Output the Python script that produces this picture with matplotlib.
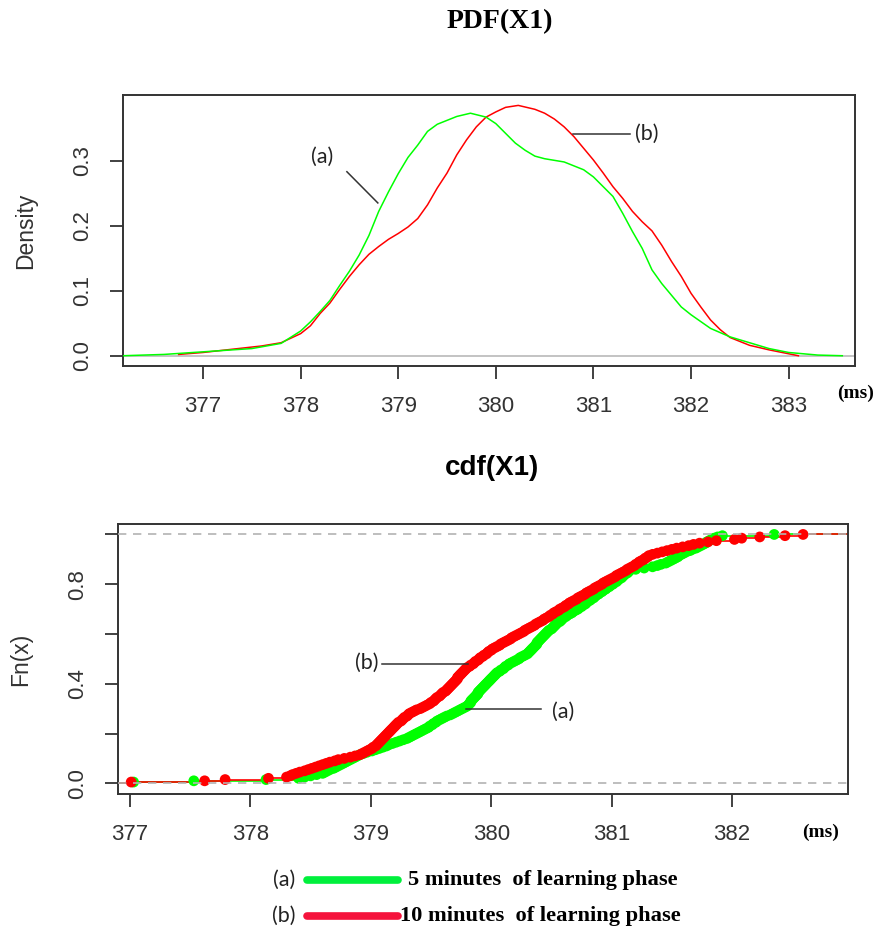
import matplotlib
matplotlib.use("Agg")
import matplotlib.pyplot as plt
from matplotlib.lines import Line2D
import numpy as np

# density curves, (a) = 5 min, (b) = 10 min
pdf_x_a = [376.18, 376.6, 377.0, 377.5, 377.8, 378.0, 378.1, 378.2, 378.3, 378.4,
           378.5, 378.6, 378.7, 378.8, 378.9, 379.0, 379.1, 379.2, 379.3, 379.4,
           379.5, 379.6, 379.74, 379.9, 380.0, 380.1, 380.2, 380.3, 380.4, 380.5,
           380.7, 380.9, 381.0, 381.1, 381.2, 381.3, 381.4, 381.5, 381.6, 381.7,
           381.8, 381.9, 382.0, 382.2, 382.4, 382.6, 382.8, 383.0, 383.3, 383.55]
pdf_y_a = [0.0, 0.002, 0.006, 0.011, 0.019, 0.038, 0.052, 0.068, 0.085, 0.108,
           0.130, 0.155, 0.185, 0.222, 0.252, 0.280, 0.305, 0.324, 0.345, 0.356,
           0.362, 0.368, 0.373, 0.367, 0.357, 0.342, 0.327, 0.316, 0.307, 0.303,
           0.298, 0.286, 0.275, 0.260, 0.245, 0.219, 0.191, 0.165, 0.132, 0.111,
           0.093, 0.075, 0.063, 0.042, 0.029, 0.020, 0.011, 0.005, 0.001, 0.0]

pdf_x_b = [376.75, 377.0, 377.3, 377.6, 377.8, 378.0, 378.1, 378.2, 378.3, 378.4,
           378.5, 378.6, 378.7, 378.8, 378.9, 379.0, 379.1, 379.2, 379.3, 379.4,
           379.5, 379.6, 379.7, 379.8, 379.9, 380.0, 380.1, 380.23, 380.4, 380.5,
           380.6, 380.7, 380.8, 380.9, 381.0, 381.1, 381.2, 381.3, 381.4, 381.5,
           381.6, 381.7, 381.8, 381.9, 382.0, 382.1, 382.2, 382.3, 382.4, 382.6,
           382.8, 383.0, 383.1]
pdf_y_b = [0.002, 0.005, 0.010, 0.015, 0.020, 0.034, 0.046, 0.065, 0.081, 0.102,
           0.122, 0.140, 0.156, 0.168, 0.179, 0.188, 0.198, 0.211, 0.232, 0.258,
           0.281, 0.309, 0.332, 0.352, 0.367, 0.375, 0.382, 0.385, 0.379, 0.373,
           0.364, 0.352, 0.337, 0.319, 0.301, 0.281, 0.260, 0.242, 0.222, 0.206,
           0.192, 0.170, 0.145, 0.122, 0.096, 0.075, 0.055, 0.040, 0.028, 0.016,
           0.009, 0.003, 0.0]

# observations behind the empirical cdf panel
sample_a = [377.03, 377.53, 378.13,
            378.40, 378.45, 378.50, 378.55, 378.60, 378.62, 378.64, 378.66, 378.69, 378.71,
            378.73, 378.75, 378.77, 378.79, 378.81, 378.83, 378.85, 378.87, 378.89, 378.91,
            378.94, 378.97, 379.01, 379.04, 379.07, 379.10, 379.13, 379.15, 379.18, 379.21,
            379.24, 379.27, 379.30, 379.32, 379.34, 379.36, 379.38, 379.40, 379.42, 379.44,
            379.46, 379.48, 379.49, 379.51, 379.52, 379.54, 379.55, 379.57, 379.59, 379.61,
            379.63, 379.66, 379.68, 379.70, 379.72, 379.74, 379.76, 379.78, 379.80, 379.81,
            379.82, 379.83, 379.83, 379.84, 379.85, 379.86, 379.87, 379.88, 379.89, 379.89,
            379.90, 379.91, 379.92, 379.93, 379.94, 379.95, 379.96, 379.97, 379.98, 379.99,
            380.00, 380.01, 380.02, 380.03, 380.04, 380.05, 380.07, 380.08, 380.10, 380.11,
            380.12, 380.14, 380.15, 380.17, 380.19, 380.21, 380.23, 380.24, 380.26, 380.28,
            380.30, 380.31, 380.32, 380.33, 380.34, 380.35, 380.36, 380.37, 380.38, 380.38,
            380.39, 380.40, 380.41, 380.42, 380.43, 380.44, 380.45, 380.46, 380.47, 380.48,
            380.50, 380.51, 380.52, 380.53, 380.54, 380.55, 380.57, 380.58, 380.59, 380.60,
            380.62, 380.63, 380.65, 380.67, 380.68, 380.70, 380.72, 380.73, 380.75, 380.76,
            380.78, 380.79, 380.80, 380.82, 380.83, 380.85, 380.86, 380.87, 380.89, 380.90,
            380.92, 380.93, 380.95, 380.96, 380.98, 380.99, 381.01, 381.02, 381.04, 381.05,
            381.06, 381.08, 381.09, 381.10, 381.11, 381.13, 381.14, 381.15, 381.20, 381.27,
            381.34, 381.38, 381.41, 381.45, 381.47, 381.49, 381.51, 381.53, 381.55, 381.56,
            381.58, 381.60, 381.62, 381.65, 381.67, 381.70, 381.72, 381.74, 381.76, 381.78,
            381.79, 381.81, 381.83, 381.85, 381.88, 381.92, 382.35]

sample_b = [377.01, 377.62, 377.79, 378.15,
            378.30, 378.33, 378.35, 378.38, 378.41, 378.45, 378.48, 378.51, 378.54,
            378.57, 378.60, 378.63, 378.66, 378.70, 378.73, 378.78, 378.83, 378.87,
            378.91, 378.93, 378.95, 378.97, 378.99, 379.01, 379.02,
            379.04, 379.05, 379.06, 379.07, 379.08, 379.09, 379.10, 379.11, 379.12, 379.13,
            379.14, 379.15, 379.16, 379.17, 379.18, 379.19,
            379.20, 379.21, 379.22, 379.23, 379.25, 379.26, 379.27, 379.28, 379.30, 379.31,
            379.32, 379.34, 379.36, 379.38, 379.41, 379.43, 379.45, 379.47, 379.49,
            379.50, 379.52, 379.53, 379.54, 379.55, 379.57, 379.58, 379.59, 379.60, 379.62,
            379.63, 379.64, 379.65, 379.66, 379.67, 379.68, 379.69, 379.70, 379.71, 379.72,
            379.72, 379.73, 379.74, 379.75, 379.76, 379.77, 379.78, 379.79,
            379.80, 379.82, 379.83, 379.85, 379.86, 379.87, 379.89, 379.90, 379.91, 379.93,
            379.94, 379.96, 379.97, 379.98, 380.00, 380.01,
            380.03, 380.05, 380.07, 380.08, 380.10, 380.12, 380.14, 380.16, 380.17, 380.19,
            380.21, 380.23, 380.25, 380.27, 380.28, 380.30, 380.32, 380.34, 380.36, 380.37,
            380.39, 380.41, 380.43, 380.44, 380.46, 380.48, 380.49, 380.51, 380.52, 380.54,
            380.56, 380.57, 380.59, 380.61, 380.62, 380.64, 380.65, 380.67, 380.69, 380.71,
            380.72, 380.74, 380.76, 380.78, 380.79, 380.81, 380.83, 380.85, 380.86, 380.88,
            380.90, 380.92, 380.93, 380.95, 380.97, 380.99, 381.01, 381.03, 381.04, 381.06,
            381.08, 381.10, 381.12, 381.13, 381.15, 381.17, 381.19, 381.20, 381.22, 381.23,
            381.25, 381.27, 381.28, 381.30, 381.31, 381.34, 381.38, 381.42, 381.46, 381.50,
            381.54, 381.59, 381.64, 381.68, 381.73, 381.80, 381.87,
            382.02, 382.08, 382.23, 382.44, 382.59]

pdf_xticks = [377, 378, 379, 380, 381, 382, 383]
pdf_yticks = [0.0, 0.1, 0.2, 0.3]
cdf_xticks = [377, 378, 379, 380, 381, 382]
cdf_yticks = [0.0, 0.2, 0.4, 0.6, 0.8, 1.0]
cdf_ytick_labels = ["0.0", "", "0.4", "", "0.8", ""]

legend_tags = ["(a)", "(b)"]
legend_labels = ["5 minutes  of learning phase", "10 minutes  of learning phase"]

GREEN = "#00ff00"
RED = "#ff0000"
AXIS_COL = "#333333"
ANNOT_FONT = ["Lato", "DejaVu Sans"]
SERIF = "Liberation Serif"


def style_axes(ax):
    for s in ax.spines.values():
        s.set_linewidth(1.4)
        s.set_color(AXIS_COL)
    ax.tick_params(direction="out", length=9.5, width=1.3, color=AXIS_COL,
                   labelsize=16, labelcolor=AXIS_COL, pad=12)
    for lab in ax.get_yticklabels():
        lab.set_rotation(90)
        lab.set_va("center")
    for lab in ax.get_xticklabels() + ax.get_yticklabels():
        lab.set_family("Liberation Sans")


fig = plt.figure(figsize=(8.78, 9.30), dpi=100)

# ---- PDF panel
ax1 = fig.add_axes([123 / 878, 1 - 366 / 930, 732 / 878, 271 / 930])
ax1.axhline(0, color="#bebebe", lw=1.3, zorder=1)
ax1.plot(pdf_x_b, pdf_y_b, color=RED, lw=1.1, zorder=2)
ax1.plot(pdf_x_a, pdf_y_a, color=GREEN, lw=1.1, zorder=3)
ax1.set_xlim(376.18, 383.68)
ax1.set_ylim(-0.0158, 0.401)
ax1.set_xticks(pdf_xticks)
ax1.set_xticklabels([str(t) for t in pdf_xticks])
ax1.set_yticks(pdf_yticks)
ax1.set_yticklabels(["%.1f" % t for t in pdf_yticks])
style_axes(ax1)
ax1.set_ylabel("Density", fontsize=16.5, color=AXIS_COL, family="Liberation Sans")
ax1.yaxis.set_label_coords(-0.117, 0.5)

ax1.plot([378.474, 378.791], [0.283, 0.235], color="#333333", lw=1.1)
ax1.text(378.22, 0.306, "(a)", fontsize=15.5, family=ANNOT_FONT, color="#222222",
         ha="center", va="center")
ax1.plot([380.787, 381.37], [0.3406, 0.3406], color="#333333", lw=1.1)
ax1.text(381.55, 0.3406, "(b)", fontsize=15.5, family=ANNOT_FONT, color="#222222",
         ha="center", va="center")

fig.text(500 / 878, 1 - 22 / 930, "PDF(X1)", ha="center", va="center",
         fontsize=20, fontweight="bold", family=SERIF)
fig.text(856 / 878, 1 - 393 / 930, "(ms)", ha="center", va="center",
         fontsize=14, fontweight="bold", family=SERIF)

# ---- ECDF panel
ax2 = fig.add_axes([117.7 / 878, 1 - 794 / 930, 730.3 / 878, 270 / 930])
x_lo, x_hi = 376.898, 382.963
for sample, col in [(sample_a, GREEN), (sample_b, RED)]:
    xs = np.sort(np.asarray(sample))
    fn = np.arange(1, len(xs) + 1) / len(xs)
    ax2.hlines(fn[:-1], xs[:-1], xs[1:], color=col, lw=1.2, zorder=2)
    ax2.hlines([0.0], [x_lo], [xs[0]], color=col, lw=1.2, zorder=2)
    ax2.hlines([1.0], [xs[-1]], [x_hi], color=col, lw=1.2, zorder=2)
    ax2.scatter(xs, fn, s=60, color=col, edgecolors="none", zorder=3)
for h in (0.0, 1.0):
    ax2.axhline(h, color="#b3b3b3", lw=1.2, ls=(0, (5, 4)), zorder=4)
ax2.set_xlim(x_lo, x_hi)
ax2.set_ylim(-0.043, 1.042)
ax2.set_xticks(cdf_xticks)
ax2.set_xticklabels([str(t) for t in cdf_xticks])
ax2.set_yticks(cdf_yticks)
ax2.set_yticklabels(cdf_ytick_labels)
style_axes(ax2)
ax2.set_ylabel("Fn(x)", fontsize=16.5, color=AXIS_COL, family="Liberation Sans")
ax2.yaxis.set_label_coords(-0.117, 0.5)

ax2.plot([379.089, 379.808], [0.478, 0.478], color="#333333", lw=1.1, zorder=5)
ax2.text(378.964, 0.482, "(b)", fontsize=15.5, family=ANNOT_FONT, color="#222222",
         ha="center", va="center")
ax2.plot([379.794, 380.417], [0.298, 0.298], color="#333333", lw=1.1, zorder=5)
ax2.text(380.596, 0.288, "(a)", fontsize=15.5, family=ANNOT_FONT, color="#222222",
         ha="center", va="center")

fig.text(492 / 878, 1 - 468 / 930, "cdf(X1)", ha="center", va="center",
         fontsize=20, fontweight="bold",
         family=["Liberation Sans Narrow", "Liberation Sans"])
fig.text(821 / 878, 1 - 832 / 930, "(ms)", ha="center", va="center",
         fontsize=14, fontweight="bold", family=SERIF)

# ---- legend under the panels
legend_cols = ["#00f03c", "#f5133c"]
for i, (tag, lab, col) in enumerate(zip(legend_tags, legend_labels, legend_cols)):
    y = 1 - (880 + 35.5 * i) / 930
    fig.text(284 / 878, y, tag, ha="center", va="center", fontsize=15.5,
             family=ANNOT_FONT, color="#222222")
    fig.add_artist(Line2D([307 / 878, 398 / 878], [y, y], color=col, lw=5.5,
                          solid_capstyle="round", transform=fig.transFigure))
    fig.text((408 - 8 * i) / 878, y, lab, ha="left", va="center", fontsize=16.2,
             fontweight="bold", family=SERIF)

fig.savefig("out.png", dpi=100)
